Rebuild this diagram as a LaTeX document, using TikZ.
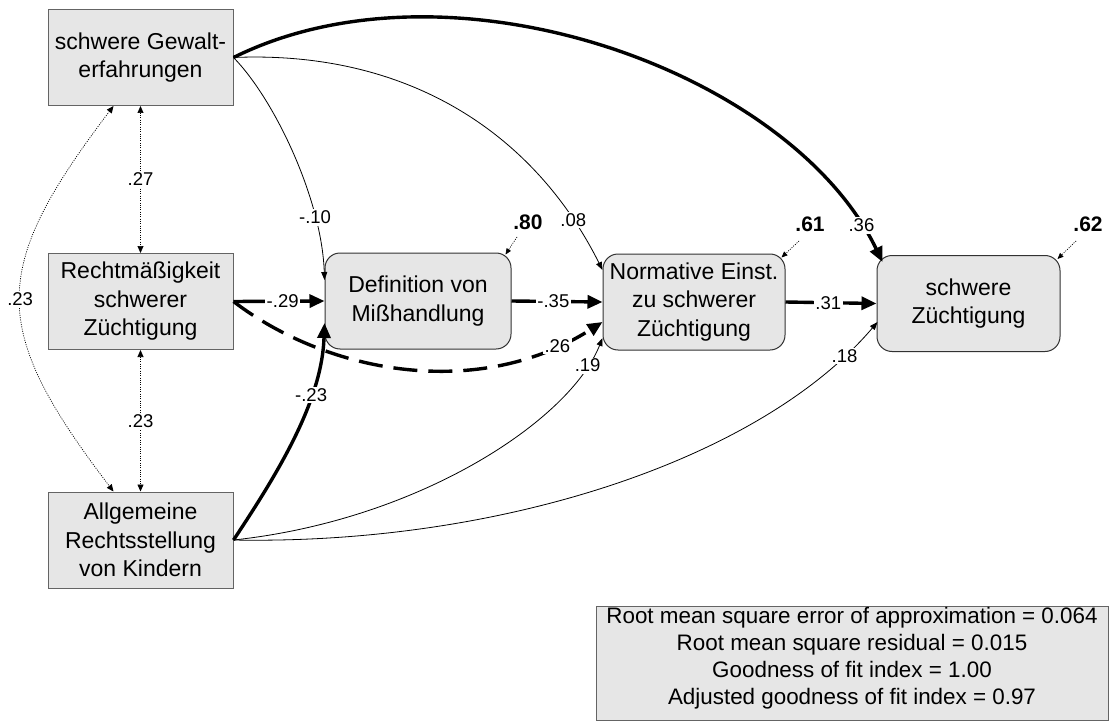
\documentclass[tikz,border=0pt]{standalone}
\usepackage{fontspec}
\setmainfont{Liberation Sans}
\usetikzlibrary{arrows.meta,calc}
\definecolor{boxfill}{RGB}{230,230,230}
\definecolor{rectline}{RGB}{100,100,100}
\definecolor{roundline}{RGB}{50,50,50}
\begin{document}
\begin{tikzpicture}[x=1pt,y=-1pt,
  rectbox/.style={draw=rectline, fill=boxfill, line width=1pt, minimum width=185pt,
    minimum height=96pt, inner sep=0pt, align=center, font=\fontsize{23}{28.5}\selectfont},
  roundbox/.style={rectbox, draw=roundline, rounded corners=15pt},
  fitbox/.style={draw=rectline, fill=boxfill, line width=1.2pt, minimum width=512pt,
    minimum height=114pt, inner sep=0pt},
  fittext/.style={align=center, inner sep=0pt, font=\fontsize{22.4}{27}\selectfont},
  thinarrow/.style={line width=0.8pt, -{Triangle[length=8pt,width=6pt]}},
  thickarrow/.style={line width=3.4pt, -{Triangle[length=15pt,width=13pt]}},
  thickdash/.style={thickarrow, dash pattern=on 24pt off 11pt},
  covar/.style={line width=0.7pt, dash pattern=on 1pt off 1.3pt,
    {Triangle[length=7pt,width=6pt]}-{Triangle[length=7pt,width=6pt]}},
  resid/.style={line width=0.7pt, dash pattern=on 1pt off 1.3pt, -{Triangle[length=6pt,width=5pt]}},
  elabel/.style={fill=white, inner sep=1.5pt, font=\fontsize{18.5}{20}\selectfont},
  rlabel/.style={inner sep=1pt, font=\bfseries\fontsize{21}{24}\selectfont}
]
\useasboundingbox (0,0) rectangle (1110,722);

% nodes
\node[rectbox] (A) at (140.5,57.5) {schwere Gewalt-\\erfahrungen};
\node[rectbox] (B) at (140.5,301.5) {Rechtmäßigkeit\\schwerer\\Züchtigung};
\node[rectbox] (C) at (140.5,540) {Allgemeine\\Rechtsstellung\\von Kindern};
\node[roundbox, minimum width=186pt] (D) at (418,301) {Definition von\\Mißhandlung};
\node[roundbox, minimum width=182pt] (E) at (694,302) {Normative Einst.\\zu schwerer\\Züchtigung};
\node[roundbox, minimum width=183pt] (F) at (968.5,303.5) {schwere\\Züchtigung};

% residual labels
\node[rlabel] (r80) at (528,222) {.80};
\node[rlabel] (r61) at (810,224) {.61};
\node[rlabel] (r62) at (1088,224) {.62};
\draw[resid] ($(r80)+(-11,15)$) -- ($(D.north east)+(-6,2)$);
\draw[resid] ($(r61)+(-11,17)$) -- ($(E.north east)+(-4,4)$);
\draw[resid] ($(r62)+(-12,17)$) -- ($(F.north east)+(-3,4)$);

% covariances
\draw[covar] (A.south) -- (B.north) node[elabel,pos=0.5] {.27};
\draw[covar] (B.south) -- (C.north) node[elabel,pos=0.5] {.23};
\draw[covar] ($(A.south)+(-27,0)$) .. controls (-11,270) and (-11,328) .. ($(C.north)+(-27,0)$)
  node[elabel,pos=0.5] {.23};

% paths from A
\draw[thickarrow] (A.east) .. controls (450,-50) and (790,70) .. ($(F.north west)+(6,7)$)
  node[elabel,pos=0.935] {.36};
\draw[thinarrow] (A.east) .. controls (410,50) and (535,135) .. ($(E.west)+(0,-32)$)
  node[elabel,pos=0.87] {.08};
\draw[thinarrow] (A.east) .. controls (275,100) and (322,200) .. ($(D.west)+(0,-21)$)
  node[elabel,pos=0.75] {-.10};

% paths from B
\draw[thickarrow] (B.east) -- (D.west) node[elabel,pos=0.54] {-.29};
\draw[thickdash] (B.east) .. controls (330,375) and (480,400) .. ($(E.west)+(0,20)$)
  node[elabel,pos=0.88] {.26};

% chain
\draw[thickarrow] (D.east) -- (E.west) node[elabel,pos=0.46] {-.35};
\draw[thickarrow] (E.east) -- (F.west) node[elabel,pos=0.47] {.31};

% paths from C
\draw[thickarrow] (C.east) .. controls (280,470) and (322,400) .. ($(D.west)+(0,22)$)
  node[elabel,pos=0.68] {-.23};
\draw[thinarrow] (C.east) .. controls (420,520) and (570,420) .. ($(E.west)+(0,36)$)
  node[elabel,pos=0.89] {.19};
\draw[thinarrow] (C.east) .. controls (500,545) and (760,460) .. ($(F.west)+(1,18.5)$)
  node[elabel,pos=0.915] {.18};

% fit box
\node[fitbox, anchor=north west] (fit) at (596,606) {};
\node[fittext] (fitlabel) at (852,658) {Root mean square error of approximation = 0.064\\Root mean square residual = 0.015\\Goodness of fit index = 1.00\\Adjusted goodness of fit index = 0.97};
\end{tikzpicture}
\end{document}
